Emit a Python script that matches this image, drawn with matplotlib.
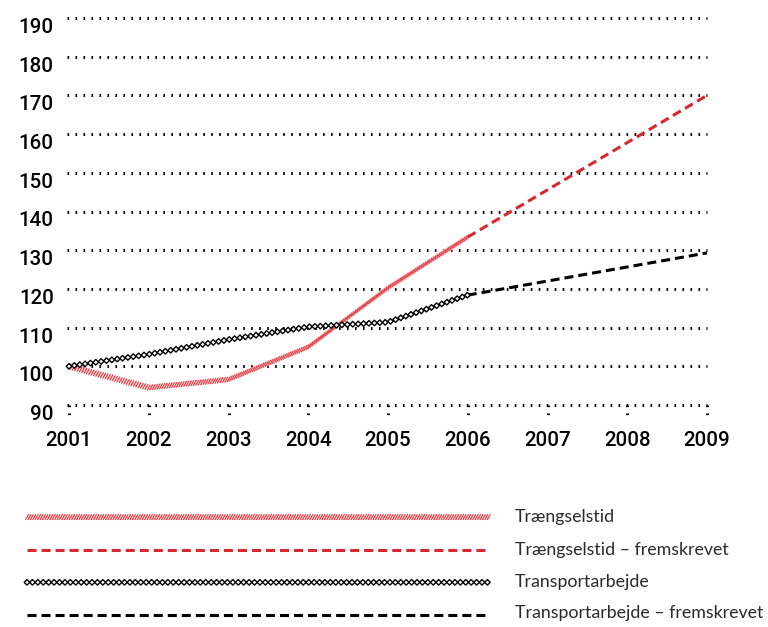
import numpy as np
import matplotlib
matplotlib.use("Agg")
import matplotlib.pyplot as plt
from matplotlib.patheffects import AbstractPathEffect
from matplotlib.path import Path
from matplotlib.transforms import Affine2D

plt.rcParams['lines.scale_dashes'] = False

# data
years = [2001, 2002, 2003, 2004, 2005, 2006]
traengsel = [100, 94.5, 96.6, 105.0, 120.3, 133.4]
transport = [100, 103.1, 106.9, 110.2, 111.4, 118.4]
years_proj = [2006, 2009]
traengsel_proj = [133.4, 170.0]
transport_proj = [118.4, 129.3]

x_ticks = [2001, 2002, 2003, 2004, 2005, 2006, 2007, 2008, 2009]
y_ticks = [90, 100, 110, 120, 130, 140, 150, 160, 170, 180, 190]
legend_labels = ["Trængselstid", "Trængselstid – fremskrevet",
                 "Transportarbejde", "Transportarbejde – fremskrevet"]

RED = '#d7282f'
DOTS = (0, (1.2, 4.55))


class Stamp(AbstractPathEffect):
    """Repeat a small shape along the drawn line."""

    def __init__(self, shape, step, color, face=None, lw=0.8):
        super().__init__()
        self.shape = shape
        self.step = step
        self.color = color
        self.face = face
        self.lw = lw

    def draw_path(self, renderer, gc, tpath, affine, rgbFace=None):
        pts = affine.transform(tpath.vertices)
        seglen = np.hypot(*np.diff(pts, axis=0).T)
        cum = np.concatenate([[0], np.cumsum(seglen)])
        step = renderer.points_to_pixels(self.step)
        s = np.arange(0, cum[-1] + 1e-6, step)
        xs = np.interp(s, cum, pts[:, 0])
        ys = np.interp(s, cum, pts[:, 1])
        scale = renderer.points_to_pixels(1.0)
        g = renderer.new_gc()
        g.copy_properties(gc)
        g.set_alpha(1.0)
        g.set_foreground(self.color)
        g.set_linewidth(self.lw)
        g.set_dashes(0, None)
        for x, y in zip(xs, ys):
            tr = Affine2D().scale(scale).translate(x, y)
            renderer.draw_path(g, self.shape, tr, self.face)
        g.restore()


diamond = Path([(0, -2.0), (2.0, 0), (0, 2.0), (-2.0, 0), (0, -2.0)],
               [Path.MOVETO, Path.LINETO, Path.LINETO, Path.LINETO, Path.CLOSEPOLY])
slash = Path([(-1.0, -1.8), (1.0, 1.8)])


def hatched(ax, x, y, **kw):
    ax.plot(x, y, color='#f7d0d2', lw=3.6, solid_capstyle='butt', **kw)
    ax.plot(x, y, color=RED, lw=0.1, alpha=0.0,
            path_effects=[Stamp(slash, 1.75, '#e0323b', None, 0.7)], **kw)


def chain(ax, x, y, **kw):
    ax.plot(x, y, color='black', lw=0.1, alpha=0.0,
            path_effects=[Stamp(diamond, 3.9, 'black', (1, 1, 1), 1.0)], **kw)


fig = plt.figure(figsize=(7.68, 6.27), dpi=100)
ax = fig.add_axes([69 / 768, 1 - 405 / 627, 638 / 768, 387 / 627])
ax.set_xlim(2001, 2009)
ax.set_ylim(90, 190)
for sp in ax.spines.values():
    sp.set_visible(False)

# dotted grid and dotted year ticks
ax.hlines(y_ticks, 2000.97, 2009.0, colors='black', lw=2.1, linestyles=DOTS, clip_on=False)
for yr in x_ticks:
    ax.plot([yr, yr], [90, 85.8], color='black', lw=2.1, ls=DOTS, clip_on=False)

hatched(ax, years, traengsel, clip_on=False, zorder=3)
ax.plot(years_proj, traengsel_proj, color=RED, lw=2.2, dashes=(6.5, 3.6), clip_on=False, zorder=3)
chain(ax, years, transport, clip_on=False, zorder=4)
ax.plot(years_proj, transport_proj, color='black', lw=2.2, dashes=(6.5, 3.6), clip_on=False, zorder=3)

ax.set_xticks(x_ticks)
ax.set_xticklabels([str(v) for v in x_ticks])
ax.set_yticks(y_ticks)
ax.set_yticklabels([str(v) for v in y_ticks])
ax.tick_params(length=0, labelsize=14.8)
ax.tick_params(axis='x', pad=19)
ax.tick_params(axis='y', pad=11)
for lab in ax.get_xticklabels() + ax.get_yticklabels():
    lab.set_fontfamily('Roboto')
    lab.set_fontweight('medium')
for lab in ax.get_yticklabels():
    lab.set_va('top')

# legend
lax = fig.add_axes([27 / 768, 1 - 615 / 627, 462 / 768, 98 / 627])
lax.set_xlim(0, 1)
lax.set_ylim(3, 0)
lax.axis('off')
hatched(lax, [0, 1], [0, 0], clip_on=False)
lax.plot([0, 1], [1, 1], color=RED, lw=2.2, dashes=(6.5, 3.6), clip_on=False)
chain(lax, [0, 1], [2, 2], clip_on=False)
lax.plot([0, 1], [3, 3], color='black', lw=2.2, dashes=(6.5, 3.6), clip_on=False)
for i, lab in enumerate(legend_labels):
    lax.text(1.056, i - (0.07 if i == 3 else 0), lab, va='center', ha='left', fontsize=12.8,
             fontfamily='Lato', fontweight='normal', color='#2a2a2a')

fig.savefig('out.png', dpi=100)
